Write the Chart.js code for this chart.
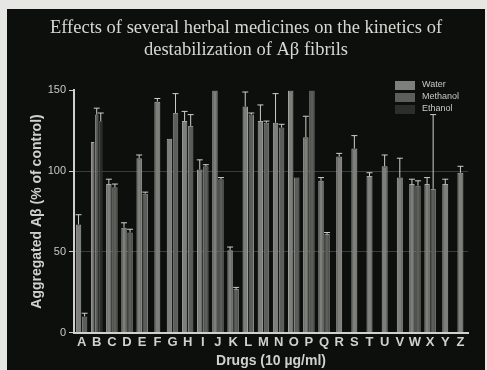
<!DOCTYPE html>
<html>
<head>
<meta charset="utf-8">
<script src="https://cdn.jsdelivr.net/npm/chart.js@4.4.1/dist/chart.umd.min.js"></script>
<style>
  html, body { margin: 0; padding: 0; background: #e6e6e2; overflow: hidden; }
  #wrap { position: absolute; left: 7px; top: 9px; width: 478px; height: 361px; }
</style>
</head>
<body>
<div id="wrap"><canvas id="myChart" width="478" height="361"></canvas></div>
<script>
// Drugs A..Z
var drugs = ['A','B','C','D','E','F','G','H','I','J','K','L','M','N','O','P','Q','R','S','T','U','V','W','X','Y','Z'];

// Aggregated Abeta (% of control)
var water    = [67, 118, 92, 65, 108, 143, 120, 131, 101, 150, 51, 140, 131, 130, 150, 121, 94, 109, 114, 97, 103, 96, 92, 92, 92, 99];
var methanol = [10, 135, 90, 62, 86, null, 136, 128, 103, 95, 27, 135, 130, 127, 96, 150, 61, null, null, null, null, null, 91, 89, null, null];
var ethanol  = [null, 131, null, null, null, null, null, null, null, null, null, null, null, null, null, null, null, null, null, null, null, null, null, null, null, null];

// error bar sizes (+)
var waterErr    = [6, 0, 3, 3, 2, 2, 0, 6, 6, 0, 2, 9, 10, 18, 0, 13, 2, 2, 8, 2, 7, 12, 3, 4, 3, 4];
var methanolErr = [2, 4, 2, 2, 1, 0, 12, 7, 1, 1, 1, 1, 1, 2, 0, 0, 1, 0, 0, 0, 0, 0, 3, 46, 0, 0];
var ethanolErr  = [0, 5, 0, 0, 0, 0, 0, 0, 0, 0, 0, 0, 0, 0, 0, 0, 0, 0, 0, 0, 0, 0, 0, 0, 0, 0];

var yTicks = [0, 50, 100, 150];

var bg = {
    id: 'bg',
    beforeDraw: function (chart) {
        var c = chart.ctx;
        c.save();
        c.fillStyle = '#0d0f0c';
        c.fillRect(0, 0, chart.width, chart.height);
        c.restore();
    }
};

var errorBars = {
    id: 'errorBars',
    afterDatasetsDraw: function (chart) {
        var c = chart.ctx, y = chart.scales.y;
        chart.data.datasets.forEach(function (ds, di) {
            var meta = chart.getDatasetMeta(di);
            meta.data.forEach(function (bar, i) {
                var v = ds.data[i], e = ds.errors[i];
                if (v == null || !e) return;
                var top = y.getPixelForValue(v + e);
                c.save();
                c.strokeStyle = '#cfcfca';
                c.lineWidth = 1;
                c.beginPath();
                c.moveTo(bar.x, bar.y);
                c.lineTo(bar.x, top);
                c.moveTo(bar.x - 3, top);
                c.lineTo(bar.x + 3, top);
                c.stroke();
                c.restore();
            });
        });
    }
};

// small stacked legend, top right
var boxLegend = {
    id: 'boxLegend',
    afterDraw: function (chart) {
        var c = chart.ctx;
        c.save();
        c.font = '9px "Liberation Sans", Arial, sans-serif';
        c.textBaseline = 'middle';
        chart.data.datasets.forEach(function (ds, i) {
            var yy = 76 + i * 12;
            c.fillStyle = ds.backgroundColor;
            c.fillRect(388, yy - 4, 20, 9);
            c.fillStyle = '#c8c8c4';
            c.fillText(ds.label, 415, yy);
        });
        c.restore();
    }
};

var ctx = document.getElementById('myChart').getContext('2d');
var myChart = new Chart(ctx, {
    type: 'bar',
    data: {
        labels: drugs,
        datasets: [
            { label: 'Water', data: water, errors: waterErr, backgroundColor: '#7e7f7a', borderColor: '#a9aaa5', borderWidth: 1 },
            { label: 'Methanol', data: methanol, errors: methanolErr, backgroundColor: '#5c5e59', borderColor: '#8a8b86', borderWidth: 1 },
            { label: 'Ethanol', data: ethanol, errors: ethanolErr, backgroundColor: '#2c2e2a', borderColor: '#4a4c48', borderWidth: 1 }
        ]
    },
    plugins: [bg, errorBars, boxLegend],
    options: {
        responsive: false,
        animation: false,
        skipNull: true,
        categoryPercentage: 0.8,
        barPercentage: 0.9,
        maxBarThickness: 6,
        layout: { padding: { left: 0, right: 0, top: 0, bottom: 0 } },
        plugins: {
            legend: { display: false },
            tooltip: { enabled: false },
            title: {
                display: true,
                text: ['Effects of several herbal medicines on the kinetics of', 'destabilization of A\u03b2 fibrils'],
                color: '#d8d8d2',
                font: { family: '"Liberation Serif", "Times New Roman", serif', size: 18.5, weight: 'normal', lineHeight: 1.2 },
                padding: { top: 8, bottom: 29 }
            }
        },
        scales: {
            x: {
                grid: { display: false, drawTicks: false },
                border: { color: '#d0d0cc', width: 2 },
                ticks: {
                    color: '#d0d0cc',
                    padding: 2,
                    autoSkip: false,
                    maxRotation: 0,
                    font: { family: '"Liberation Sans", Arial, sans-serif', size: 13, weight: 'bold' }
                },
                title: {
                    display: true,
                    text: 'Drugs (10 \u00b5g/ml)',
                    color: '#d0d0cc',
                    padding: { top: 1, bottom: 0 },
                    font: { family: '"Liberation Sans", Arial, sans-serif', size: 14, weight: 'bold' }
                }
            },
            y: {
                min: 0,
                max: 150,
                afterFit: function (scale) { scale.width = 67; },
                afterBuildTicks: function (scale) {
                    scale.ticks = yTicks.map(function (v) { return { value: v }; });
                },
                grid: {
                    color: function (c) { return (c.tick && (c.tick.value === 50 || c.tick.value === 100)) ? '#3a3c37' : 'rgba(0,0,0,0)'; },
                    tickColor: '#d0d0cc',
                    tickLength: 5
                },
                border: { color: '#d0d0cc', width: 2 },
                ticks: {
                    color: '#c8c8c4',
                    padding: 3,
                    font: { family: '"Liberation Sans", Arial, sans-serif', size: 11 }
                },
                title: {
                    display: true,
                    text: 'Aggregated A\u03b2 (% of control)',
                    color: '#d0d0cc',
                    padding: { top: 22, bottom: 0 },
                    font: { family: '"Liberation Sans", Arial, sans-serif', size: 14, weight: 'bold' }
                }
            },
            // empty right-hand spacer so the plot ends where the slide's plot ends
            yRight: {
                position: 'right',
                display: true,
                min: 0,
                max: 150,
                afterFit: function (scale) { scale.width = 17; },
                grid: { display: false, drawTicks: false },
                border: { display: false },
                ticks: { display: false }
            }
        }
    }
});
</script>
</body>
</html>
